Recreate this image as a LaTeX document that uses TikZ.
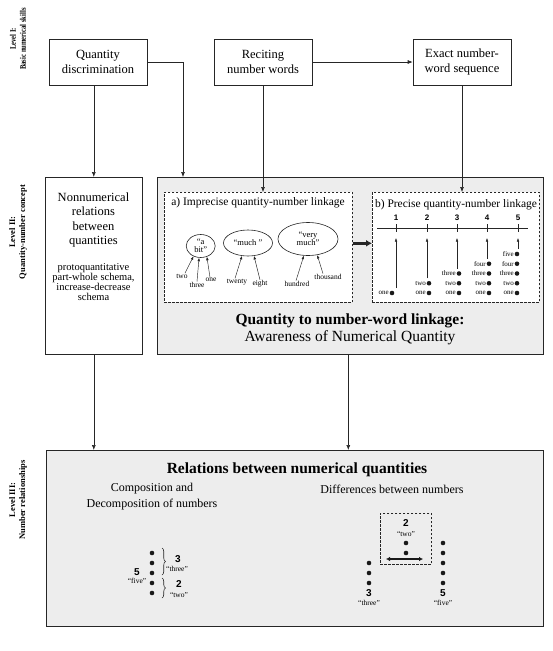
\documentclass[tikz,border=0pt]{standalone}
\usepackage{fontspec}
\setmainfont{Liberation Serif}
\newfontfamily\hsans{Liberation Sans}
\usetikzlibrary{arrows.meta,shapes.geometric,decorations.pathreplacing}
\begin{document}
\begin{tikzpicture}[x=1pt,y=-1pt]
\tikzset{
  ln/.style={draw=black!85, line width=0.6pt},
  arr/.style={draw=black!85, line width=0.6pt, -{Latex[length=5pt,width=4pt]}},
  sarr/.style={draw=black!85, line width=0.45pt, -{Latex[length=3.5pt,width=2.6pt]}},
  topbox/.style={ln, fill=white, minimum width=98pt, minimum height=46pt, inner sep=0pt, align=center, font=\fontsize{12.5}{15}\selectfont},
  bigbox/.style={ln, anchor=north west, inner sep=0pt},
  panel/.style={draw=black!85, dash pattern=on 2.5pt off 1.5pt, line width=0.6pt, fill=white, anchor=north west, inner sep=0pt},
  dot/.style={circle, fill=black!90, minimum size=4.6pt, inner sep=0pt},
  wlbl/.style={font=\fontsize{7}{8}\selectfont, inner sep=0pt},
  alab/.style={font=\fontsize{7.5}{8}\selectfont, inner sep=0.5pt},
  ell/.style={draw=black!85, line width=0.6pt, ellipse, inner sep=0pt, align=center, font=\fontsize{8.5}{8}\selectfont},
  lvl/.style={rotate=90, align=center, inner sep=0pt, font=\bfseries\fontsize{8.5}{10}\selectfont},
  numb/.style={font=\hsans\bfseries\fontsize{8}{9}\selectfont, inner sep=0pt},
  bnum/.style={font=\hsans\bfseries\fontsize{10}{11}\selectfont, inner sep=0pt},
  qlbl/.style={font=\fontsize{7.5}{8}\selectfont, inner sep=0pt},
}
\useasboundingbox (0,0) rectangle (553,651);

% level labels
\node[lvl] (lv1) at (18,39) {\scalebox{0.78}[1]{Level I:}\\\scalebox{0.78}[1]{Basic numerical skills}};
\node[lvl] (lv2) at (18,232) {Level II:\\Quantity-number concept};
\node[lvl] (lv3) at (18,500) {Level III:\\Number relationships};

% top boxes
\node[topbox] (qd) at (98,62) {Quantity\\discrimination};
\node[topbox] (rec) at (263,62) {Reciting\\number words};
\node[topbox] (ex) at (462,62) {Exact number-\\word sequence};

% level II boxes
\node[bigbox, minimum width=97pt, minimum height=177pt] (nonnum) at (45,177) {};
\node[align=center, font=\fontsize{12.5}{14.5}\selectfont, inner sep=0pt] (nn1) at (93.5,220) {Nonnumerical\\relations\\between\\quantities};
\node[align=center, font=\fontsize{10.5}{10}\selectfont, inner sep=0pt] (nn2) at (93.5,282) {protoquantitative\\part-whole schema,\\increase-decrease\\schema};

\node[bigbox, fill=black!7, minimum width=386pt, minimum height=177pt] (qbox) at (157,177) {};
\node[font=\bfseries\fontsize{15.5}{18}\selectfont, inner sep=0pt] (qt1) at (350,321) {Quantity to number-word linkage:};
\node[font=\fontsize{15.5}{18}\selectfont, inner sep=0pt] (qt2) at (350,338) {Awareness of Numerical Quantity};

% panels
\node[panel, minimum width=188pt, minimum height=110pt] (pa) at (164,192) {};
\node[panel, minimum width=167pt, minimum height=110pt] (pb) at (372,192) {};
\node[font=\fontsize{11.5}{13}\selectfont, inner sep=0pt] (pat) at (258,203) {a) Imprecise quantity-number linkage};
\node[font=\fontsize{11.5}{13}\selectfont, inner sep=0pt] (pbt) at (456,205) {b) Precise quantity-number linkage};

% panel a: ellipses
\node[ell, minimum width=29pt, minimum height=23pt] (e1) at (200.7,246) {“a\\bit”};
\node[ell, minimum width=49pt, minimum height=26pt] (e2) at (248,243) {“much ”};
\node[ell, minimum width=60pt, minimum height=33pt] (e3) at (308,239) {“very\\much”};
\node[alab] (two) at (182,276) {two};
\node[alab] (three) at (197,285) {three};
\node[alab] (one) at (211,280) {one};
\node[alab] (twenty) at (237,282) {twenty};
\node[alab] (eight) at (260,284) {eight};
\node[alab] (hundred) at (297,284) {hundred};
\node[alab] (thousand) at (328,277) {thousand};
\draw[sarr] ([xshift=3pt]two.north) -- (e1.235);
\draw[sarr] (three.north) -- (e1.262);
\draw[sarr] ([xshift=-1pt]one.north) -- (e1.300);
\draw[sarr] ([xshift=-2pt]twenty.north) -- (e2.245);
\draw[sarr] (eight.north) -- (e2.295);
\draw[sarr] ([xshift=-1pt]hundred.north) -- (e3.256);
\draw[sarr] ([xshift=-5pt]thousand.north) -- (e3.300);

% panel b: number line
\coordinate (nlL) at (377,228);
\coordinate (nlR) at (528,228);
\draw[line width=0.8pt, black!85] (nlL) -- (nlR);
\foreach \k/\x/\dx in {1/396/392,2/427/429,3/457/459,4/487/489,5/518/517}{
  \node[numb] (n\k) at (\x,218) {\k};
  \draw[line width=0.8pt, black!85] (\x,224) -- (\x,232);
  \foreach \i/\w in {1/one,2/two,3/three,4/four,5/five}{
    \ifnum\i>\k\relax\else
      \node[dot] (d\k\i) at (\dx,{293-9.75*(\i-1)}) {};
      \node[wlbl, anchor=east] (w\k\i) at ({\dx-3},{293-9.75*(\i-1)}) {\w};
    \fi
  }
  \draw[sarr] (\x,{293-9.75*(\k-1)-5}) -- (\x,238);
}

% level III box
\node[bigbox, fill=black!7, minimum width=497pt, minimum height=176pt] (rbox) at (46,450) {};
\node[font=\bfseries\fontsize{15.5}{18}\selectfont, inner sep=0pt] (rt) at (297,470) {Relations between numerical quantities};
\node[align=center, font=\fontsize{12}{16}\selectfont, inner sep=0pt] (comp) at (152,497) {Composition and\\Decomposition of numbers};
\node[font=\fontsize{12}{16}\selectfont, inner sep=0pt] (diff) at (392,489) {Differences between numbers};

% composition
\foreach \i in {1,...,5}{\node[dot] (c\i) at (152,{553+10*(\i-1)}) {};}
\draw[black!85, line width=0.6pt, decorate, decoration={brace, amplitude=3.5pt}] (162,548) -- (162,575);
\draw[black!85, line width=0.6pt, decorate, decoration={brace, amplitude=3.5pt}] (162,578) -- (162,598);
\node[bnum] (c3) at (178,559) {3};
\node[qlbl] (c3w) at (177,569) {“three”};
\node[bnum] (c2) at (179,584) {2};
\node[qlbl] (c2w) at (179,595) {“two”};
\node[bnum] (c5) at (137,572) {5};
\node[qlbl] (c5w) at (137,581) {“five”};

% differences
\node[panel, fill=none, minimum width=51pt, minimum height=51pt] (dbox) at (380,513) {};
\node[bnum] (d2) at (406,523) {2};
\node[qlbl] (d2w) at (406,534) {“two”};
\node[dot] (dd1) at (406,543) {};
\node[dot] (dd2) at (406,553) {};
\coordinate (da1) at (386,559);
\coordinate (da2) at (423,559);
\draw[black!90, line width=1.3pt, {Latex[length=4pt,width=4.5pt]}-{Latex[length=4pt,width=4.5pt]}] (da1) -- (da2);
\foreach \i in {1,2,3}{\node[dot] (l\i) at (369,{563+10*(\i-1)}) {};}
\foreach \i in {1,...,5}{\node[dot] (r\i) at (443,{543+10*(\i-1)}) {};}
\node[bnum] (d3) at (369,593) {3};
\node[qlbl] (d3w) at (369,603) {“three”};
\node[bnum] (d5) at (443,593) {5};
\node[qlbl] (d5w) at (443,603) {“five”};

% connectors
\coordinate (qin) at (183,177);
\draw[arr] (qd.east) -| (qin);
\draw[arr] (nonnum.north |- qd.south) -- (nonnum.north);
\draw[arr] (rec.east) -- (ex.west);
\draw[arr] (rec.south) -- (rec.south |- pa.north);
\draw[arr] (ex.south) -- (ex.south |- pb.north);
\draw[black!85, line width=2.4pt, -{Latex[length=6pt,width=7pt]}] ([yshift=4pt]pa.east) -- ([yshift=4pt]pb.west);
\draw[arr] (nonnum.south) -- (nonnum.south |- rbox.north);
\draw[arr] ([xshift=-2pt]qbox.south) -- ([xshift=-2pt]qbox.south |- rbox.north);
\end{tikzpicture}
\end{document}
